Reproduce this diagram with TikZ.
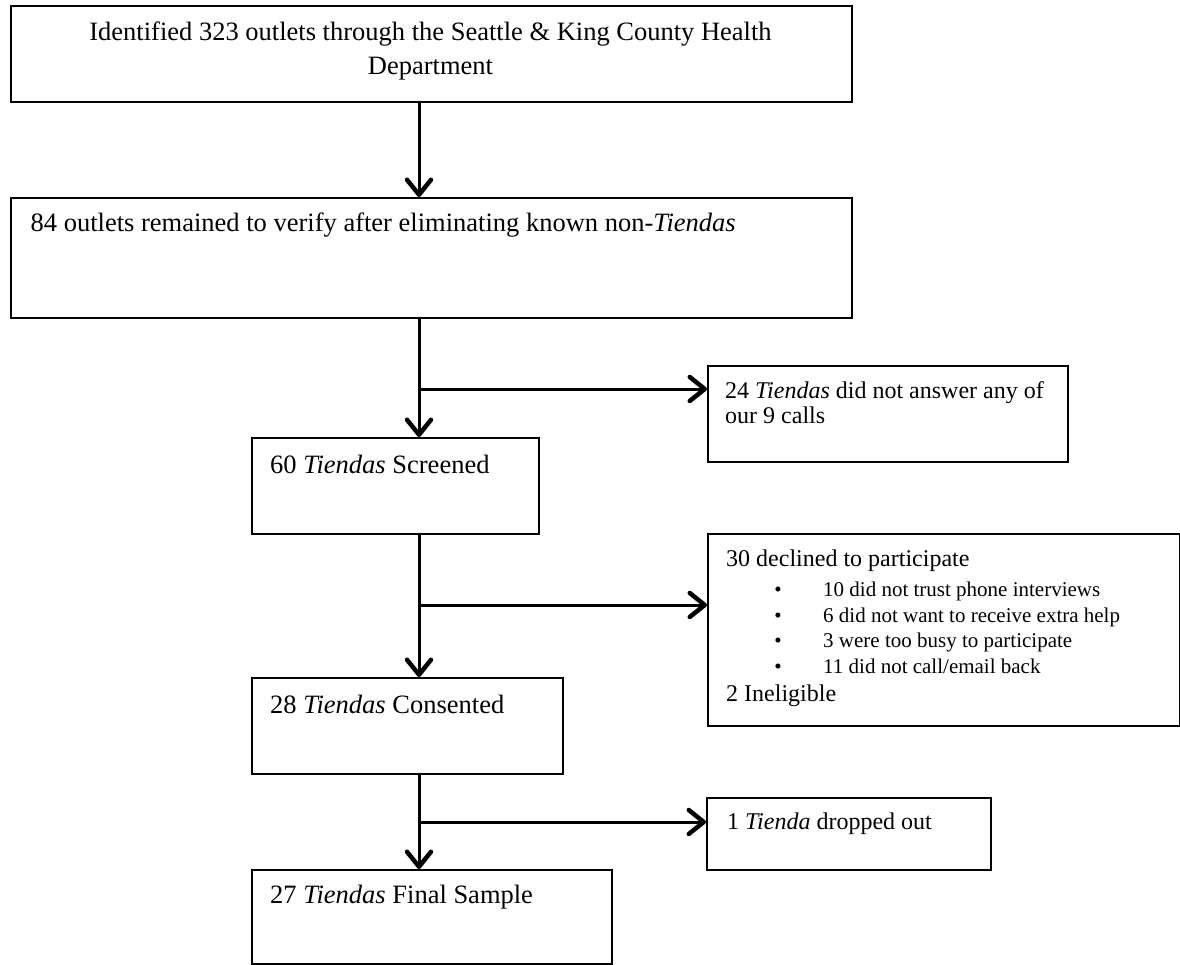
\documentclass[tikz,border=0pt]{standalone}
\usepackage{fontspec}
\setmainfont{Liberation Serif}
\usetikzlibrary{arrows.meta}
\begin{document}
\begin{tikzpicture}[x=1pt,y=-1pt,
  box/.style={draw=black, line width=1.8pt, inner sep=0pt, anchor=north west},
  conn/.style={line width=3pt, -{Straight Barb[length=15pt,width=24pt,line width=4.5pt,round]}},
  big/.style={inner sep=0pt, font=\fontsize{26.5}{32}\selectfont},
  mid/.style={inner sep=0pt, font=\fontsize{24}{28}\selectfont},
  small/.style={inner sep=0pt, font=\fontsize{21}{25}\selectfont}]
\useasboundingbox (0,0) rectangle (1180,965);

% boxes
\node[box, minimum width=841pt, minimum height=96pt] (A) at (10,5) {};
\node[box, minimum width=841pt, minimum height=120pt] (B) at (10,197) {};
\node[box, minimum width=287pt, minimum height=96pt] (C) at (251,437) {};
\node[box, minimum width=360pt, minimum height=96pt] (D) at (707,365) {};
\node[box, minimum width=472pt, minimum height=192pt] (E) at (707,533) {};
\node[box, minimum width=311pt, minimum height=96pt] (F) at (251,677) {};
\node[box, minimum width=284pt, minimum height=72pt] (G) at (706,797) {};
\node[box, minimum width=360pt, minimum height=94pt] (H) at (251,869) {};

% spine junctions
\coordinate (s1) at (419,389);
\coordinate (s2) at (419,605);
\coordinate (s3) at (419,822);

% connectors
\draw[conn] (A.south -| s1) -- (B.north -| s1);
\draw[conn] (B.south -| s1) -- (C.north -| s1);
\draw[conn] (s1) -- (s1 -| D.west);
\draw[conn] (C.south -| s1) -- (F.north -| s1);
\draw[conn] (s2) -- (s2 -| E.west);
\draw[conn] (F.south -| s1) -- (H.north -| s1);
\draw[conn] (s3) -- (s3 -| G.west);

% texts
\node[big, anchor=base] (tA1) at (430.5,41) {Identified 323 outlets through the Seattle \& King County Health};
\node[big, anchor=base] (tA2) at (430.5,75) {Department};
\node[big, anchor=base west] (tB) at (30.5,232) {84 outlets remained to verify after eliminating known non-\textit{Tiendas}};
\node[big, anchor=base west] (tC) at (270,473) {60 \textit{Tiendas} Screened};
\node[mid, anchor=base west] (tD1) at (725,398) {24 \textit{Tiendas} did not answer any of};
\node[mid, anchor=base west] (tD2) at (725,423) {our 9 calls};
\node[mid, anchor=base west] (tE1) at (726,566) {30 declined to participate};
\node[small, anchor=base] (b1) at (778,596) {•};
\node[small, anchor=base] (b2) at (778,622) {•};
\node[small, anchor=base] (b3) at (778,647) {•};
\node[small, anchor=base] (b4) at (778,673) {•};
\node[small, anchor=base west] (tE2) at (823,596) {10 did not trust phone interviews};
\node[small, anchor=base west] (tE3) at (823,622) {6 did not want to receive extra help};
\node[small, anchor=base west] (tE4) at (823,647) {3 were too busy to participate};
\node[small, anchor=base west] (tE5) at (823,673) {11 did not call/email back};
\node[mid, anchor=base west] (tE6) at (726,701) {2 Ineligible};
\node[big, anchor=base west] (tF) at (270,713) {28 \textit{Tiendas} Consented};
\node[mid, anchor=base west] (tG) at (727,829) {1 \textit{Tienda} dropped out};
\node[big, anchor=base west] (tH) at (270,903) {27 \textit{Tiendas} Final Sample};
\end{tikzpicture}
\end{document}
